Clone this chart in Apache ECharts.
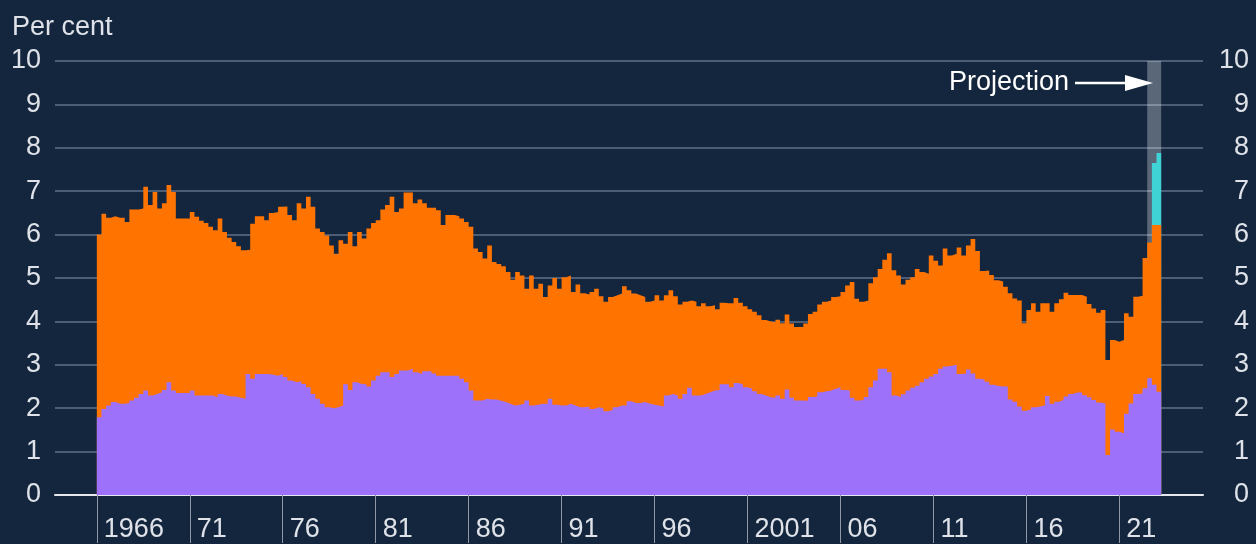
<!DOCTYPE html>
<html>
<head>
<meta charset="utf-8">
<script src="https://cdn.jsdelivr.net/npm/echarts@6/dist/echarts.min.js"></script>
<style>
  html, body { margin: 0; padding: 0; background: #14263e; }
  #chart { width: 1256px; height: 544px; }
</style>
</head>
<body>
<div id="chart"></div>
<script>
// quarterly, 1966 Q1 .. 2023 Q1
var firstYear = 1966;
var xMin = 1963.75, xMax = 2025.5;   // axis range in years

// top of the orange block (per cent)
var total = [
  6.0, 6.48, 6.39, 6.42, 6.39, 6.39, 6.29, 6.58, 6.58, 6.6, 7.1, 6.68, 6.98, 6.6, 6.72, 7.14, 6.98, 6.37, 6.37, 6.37,
  6.52, 6.41, 6.32, 6.27, 6.18, 6.1, 6.37, 6.06, 5.93, 5.83, 5.73, 5.64, 5.65, 6.25, 6.42, 6.42, 6.33, 6.5, 6.52, 6.64,
  6.65, 6.45, 6.33, 6.72, 6.6, 6.87, 6.64, 6.14, 6.06, 5.98, 5.75, 5.56, 5.87, 5.79, 6.06, 5.73, 6.06, 5.91, 6.14, 6.27,
  6.33, 6.58, 6.68, 6.87, 6.52, 6.6, 6.97, 6.97, 6.72, 6.81, 6.72, 6.62, 6.62, 6.56, 6.22, 6.45, 6.45, 6.42, 6.37, 6.29,
  6.18, 5.68, 5.6, 5.45, 5.75, 5.37, 5.32, 5.27, 5.14, 4.96, 5.14, 5.06, 4.75, 5.06, 4.75, 4.87, 4.56, 4.83, 5.0, 4.75,
  5.02, 5.06, 4.68, 4.85, 4.65, 4.62, 4.68, 4.75, 4.58, 4.45, 4.56, 4.6, 4.64, 4.81, 4.72, 4.64, 4.6, 4.56, 4.45, 4.48,
  4.6, 4.48, 4.6, 4.72, 4.58, 4.39, 4.45, 4.48, 4.45, 4.35, 4.42, 4.35, 4.37, 4.28, 4.43, 4.42, 4.42, 4.54, 4.43, 4.35,
  4.28, 4.22, 4.14, 4.03, 4.0, 3.98, 4.04, 3.96, 4.16, 3.95, 3.87, 3.87, 3.95, 4.17, 4.22, 4.39, 4.45, 4.48, 4.56, 4.58,
  4.68, 4.83, 4.91, 4.52, 4.45, 4.48, 4.88, 5.02, 5.21, 5.42, 5.57, 5.18, 5.06, 4.85, 4.96, 5.02, 5.21, 5.14, 5.1, 5.52,
  5.4, 5.29, 5.68, 5.52, 5.56, 5.7, 5.52, 5.75, 5.9, 5.62, 5.16, 5.17, 5.07, 4.95, 4.92, 4.8, 4.65, 4.53, 4.48, 3.96,
  4.26, 4.42, 4.22, 4.42, 4.42, 4.22, 4.42, 4.51, 4.66, 4.61, 4.61, 4.61, 4.57, 4.4, 4.3, 4.2, 4.26, 3.11, 3.57, 3.53,
  3.57, 4.19, 4.11, 4.57, 4.59, 5.46, 5.82, 6.22, 6.22
];

// top of the purple block (per cent)
var lower = [
  1.79, 1.98, 2.06, 2.14, 2.1, 2.1, 2.12, 2.18, 2.24, 2.33, 2.41, 2.29, 2.33, 2.37, 2.42, 2.6, 2.41, 2.35, 2.35, 2.35,
  2.41, 2.29, 2.29, 2.29, 2.29, 2.25, 2.33, 2.29, 2.27, 2.27, 2.24, 2.22, 2.79, 2.68, 2.79, 2.79, 2.79, 2.77, 2.75, 2.79,
  2.72, 2.64, 2.6, 2.62, 2.56, 2.48, 2.33, 2.22, 2.1, 2.02, 2.0, 2.02, 2.06, 2.55, 2.42, 2.6, 2.56, 2.55, 2.5, 2.64,
  2.75, 2.83, 2.83, 2.72, 2.79, 2.87, 2.87, 2.91, 2.83, 2.79, 2.85, 2.85, 2.8, 2.75, 2.75, 2.75, 2.75, 2.75, 2.68, 2.6,
  2.41, 2.18, 2.18, 2.22, 2.2, 2.2, 2.17, 2.14, 2.1, 2.06, 2.08, 2.1, 2.18, 2.06, 2.08, 2.1, 2.1, 2.22, 2.08, 2.06,
  2.06, 2.1, 2.06, 2.02, 2.02, 2.04, 1.98, 2.02, 2.0, 1.93, 1.96, 2.02, 2.06, 2.06, 2.16, 2.12, 2.12, 2.14, 2.1, 2.08,
  2.06, 2.04, 2.29, 2.33, 2.29, 2.22, 2.33, 2.47, 2.29, 2.29, 2.33, 2.37, 2.41, 2.42, 2.55, 2.55, 2.48, 2.58, 2.55, 2.48,
  2.45, 2.39, 2.33, 2.29, 2.25, 2.24, 2.29, 2.22, 2.43, 2.24, 2.18, 2.18, 2.17, 2.26, 2.27, 2.37, 2.39, 2.41, 2.45, 2.48,
  2.42, 2.41, 2.24, 2.18, 2.19, 2.26, 2.48, 2.64, 2.91, 2.91, 2.83, 2.29, 2.26, 2.32, 2.41, 2.47, 2.52, 2.6, 2.68, 2.73,
  2.79, 2.91, 2.96, 2.98, 3.0, 2.79, 2.8, 2.89, 2.8, 2.68, 2.66, 2.61, 2.54, 2.51, 2.5, 2.5, 2.2, 2.15, 2.04, 1.94,
  1.97, 2.02, 2.04, 2.07, 2.28, 2.1, 2.15, 2.19, 2.27, 2.33, 2.36, 2.36, 2.3, 2.25, 2.19, 2.13, 2.11, 0.92, 1.51, 1.46,
  1.42, 1.87, 2.11, 2.33, 2.34, 2.46, 2.69, 2.54, 2.38
];

// projected top (cyan), last two quarters
var projection = [7.65, 7.88];
var bandQuarters = 3;   // grey projection band covers the last 3 quarters
var bandTop = 10;

var yearTicks = [1966, 1971, 1976, 1981, 1986, 1991, 1996, 2001, 2006, 2011, 2016, 2021];

// step series: each quarter starts at firstYear + i/4, closing point at the end
function steps(values, startIdx) {
  var out = [];
  for (var i = 0; i < values.length; i++) {
    out.push([firstYear + (startIdx + i) / 4, values[i]]);
  }
  out.push([firstYear + (startIdx + values.length) / 4, values[values.length - 1]]);
  return out;
}

var nQ = total.length;
var band = [];
for (var b = 0; b < bandQuarters; b++) band.push(bandTop);

var txt = '#dfe3e9';
var fontFam = '"Liberation Sans", Arial, sans-serif';

function area(name, data, color, z) {
  return {
    name: name, type: 'line', step: 'end', data: data, z: z,
    showSymbol: false, symbol: 'none',
    lineStyle: { width: 0, color: color },
    areaStyle: { color: color, opacity: 1 }
  };
}

var myChart = echarts.init(document.getElementById('chart'));
var option = {
  backgroundColor: '#14263e',
  animation: false,
  textStyle: { fontFamily: fontFam },
  grid: { left: 55, right: 53, top: 61, bottom: 49, containLabel: false },
  xAxis: {
    type: 'value',
    min: xMin,
    max: xMax,
    axisLine: { show: true, onZero: false, lineStyle: { color: '#e4e8ee', width: 2 } },
    axisTick: { show: true, length: 48, customValues: yearTicks, lineStyle: { color: '#8e98a9', width: 1 } },
    axisLabel: {
      show: true,
      customValues: yearTicks,
      color: txt,
      fontSize: 27,
      align: 'left',
      margin: 21,
      padding: [0, 0, 0, 7],
      formatter: function (v) {
        v = Math.round(v);
        if (v === 1966 || v === 2001) return String(v);
        return String(v).slice(2);
      }
    },
    splitLine: { show: false }
  },
  yAxis: [
    {
      type: 'value', min: 0, max: 10, interval: 1,
      axisLine: { show: false }, axisTick: { show: false },
      axisLabel: { color: txt, fontSize: 27, margin: 14 },
      splitLine: { show: true, lineStyle: { color: '#4d5d76', width: 2 } }
    },
    {
      type: 'value', min: 0, max: 10, interval: 1, position: 'right',
      axisLine: { show: false }, axisTick: { show: false },
      axisLabel: { color: txt, fontSize: 27, align: 'right', margin: 46 },
      splitLine: { show: false }
    }
  ],
  series: [
    area('Projection band', steps(band, nQ - bandQuarters), 'rgba(255,255,255,0.3)', 1),
    area('Projection', steps(projection, nQ - projection.length), '#3fd3d6', 2),
    area('Upper', steps(total, 0), '#ff7300', 3),
    area('Lower', steps(lower, 0), '#9e71fb', 4)
  ],
  graphic: [
    { type: 'text', left: 12, top: 14, style: { text: 'Per cent', fill: txt, font: '27px ' + fontFam } },
    { type: 'text', left: 949, top: 69, style: { text: 'Projection', fill: '#ffffff', font: '27px ' + fontFam } },
    { type: 'line', shape: { x1: 1075, y1: 83, x2: 1130, y2: 83 }, style: { stroke: '#ffffff', lineWidth: 2.5 } },
    { type: 'polygon', shape: { points: [[1125, 75], [1153, 83], [1125, 91]] }, style: { fill: '#ffffff' } }
  ]
};
myChart.setOption(option);
</script>
</body>
</html>
